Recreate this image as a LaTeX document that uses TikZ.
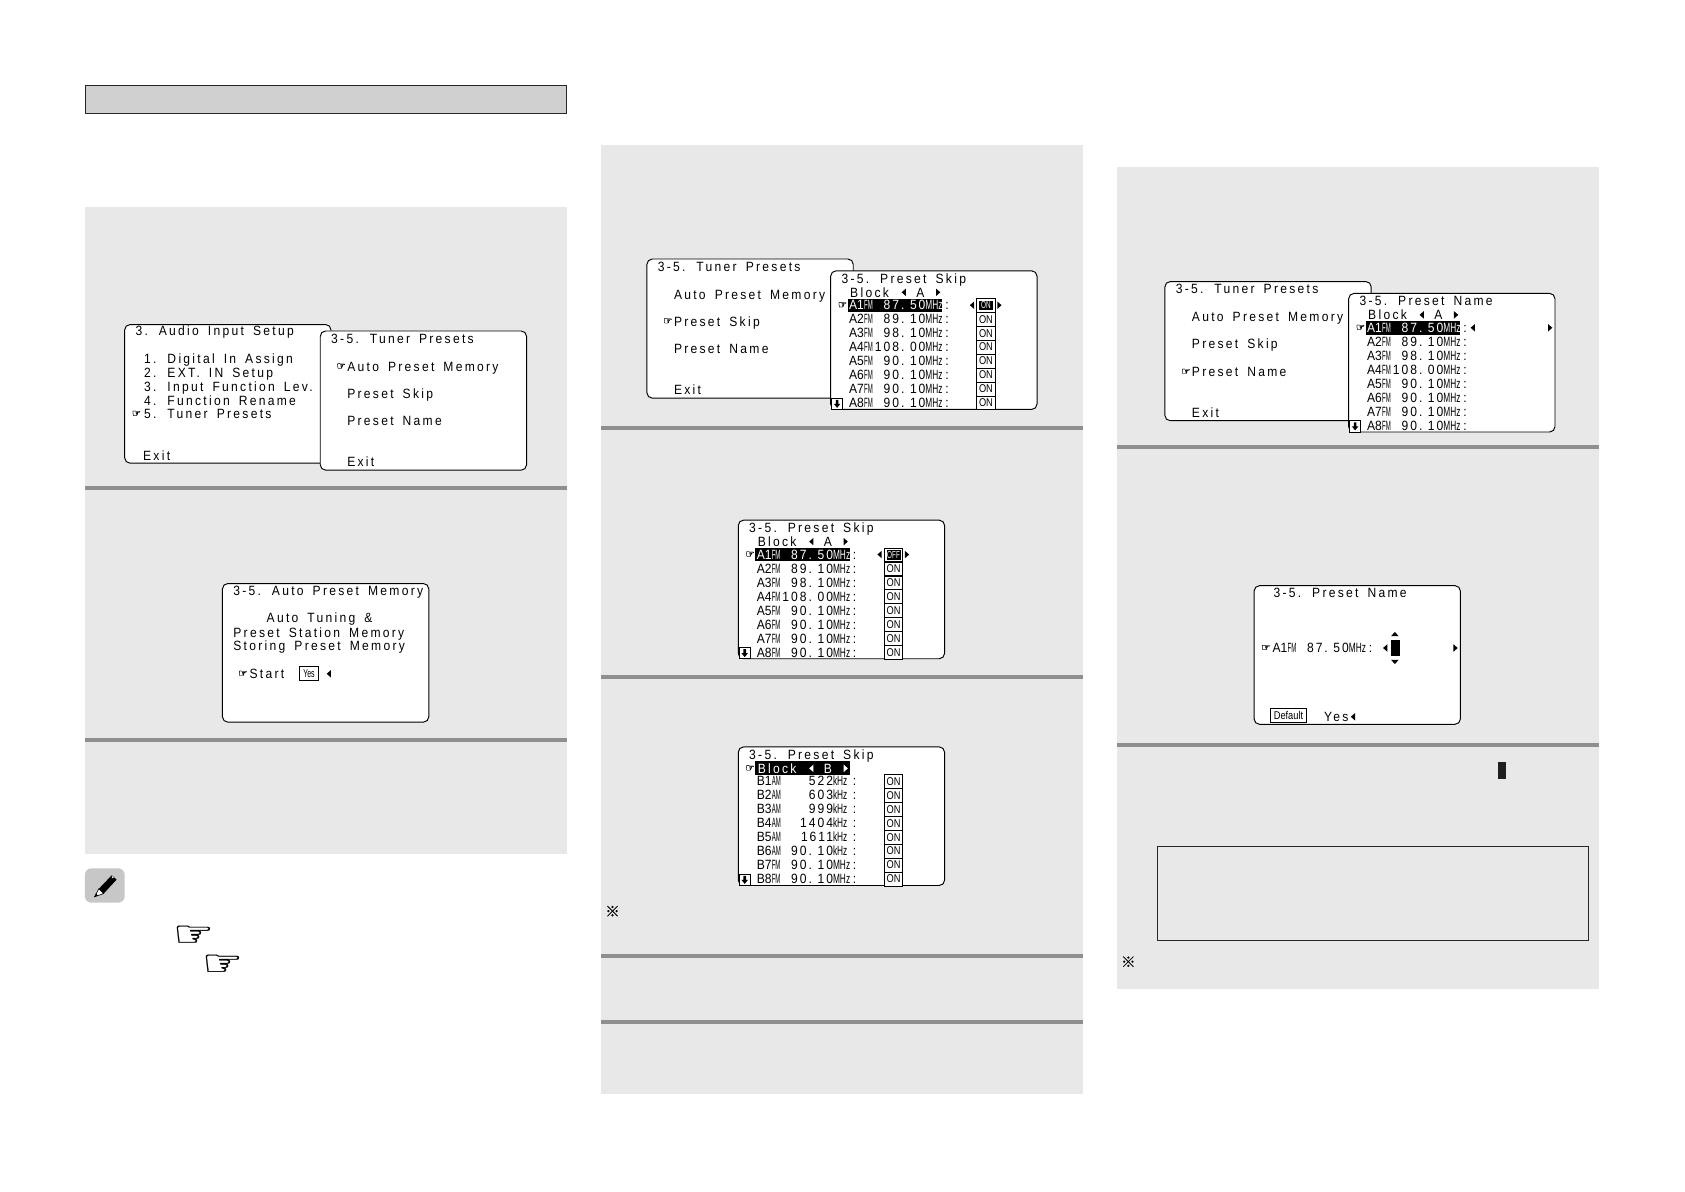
\documentclass[tikz,border=0pt]{standalone}
\usepackage{fontspec}
\setmainfont{Liberation Sans}
\newfontfamily\osdfont[LetterSpace=17,WordSpace=1.6,FakeStretch=0.9]{Liberation Sans}
\newfontfamily\valfont[LetterSpace=15,WordSpace=0.7,FakeStretch=0.9]{Liberation Sans}
\newfontfamily\labfont[FakeStretch=0.9]{Liberation Sans}
\newfontfamily\bandfont[FakeStretch=0.45]{Liberation Sans}
\newfontfamily\unitfont[FakeStretch=0.62]{Liberation Sans}
\newfontfamily\boxfont[FakeStretch=0.82]{Liberation Sans}
\newfontfamily\handfont[FakeBold=1.2]{DejaVu Sans}
\newfontfamily\bighandfont[FakeStretch=1.25,FakeBold=0.6]{DejaVu Sans}
\newfontfamily\cjkfont[FakeBold=0.5]{Noto Sans CJK JP}
\newcounter{tc}
\definecolor{panelgray}{HTML}{E8E8E8}
\definecolor{sepgray}{HTML}{8F8F8F}
\definecolor{titlegray}{HTML}{D0D0D0}
\tikzset{
  osdtext/.style={anchor=base west,inner sep=0pt,font=\fontsize{12.5}{13}\osdfont},
  screenbox/.style={draw=black,fill=white,line width=0.9pt,rounded corners=5pt},
  panelbox/.style={fill=panelgray,draw=none},
  sepbar/.style={fill=sepgray,draw=none},
  smallbox/.style={draw=black,line width=0.9pt,fill=white},
  smalltext/.style={inner sep=0pt,font=\fontsize{10.5}{11}\boxfont},
  handmark/.style={anchor=center,inner sep=0pt,font=\fontsize{9.5}{10}\handfont},
}
\newcommand{\osdt}[4][black]{\stepcounter{tc}\node[osdtext,text=#1] (t\arabic{tc}) at (#2,#3+4.4) {#4};}
\newcommand{\arrL}[2]{\fill (#1+2,#2-3.5) -- (#1-2,#2) -- (#1+2,#2+3.5) -- cycle;}
\newcommand{\arrR}[2]{\fill (#1-2,#2-3.5) -- (#1+2,#2) -- (#1-2,#2+3.5) -- cycle;}
\newcommand{\arrU}[2]{\fill (#1-3.5,#2+2) -- (#1,#2-2) -- (#1+3.5,#2+2) -- cycle;}
\newcommand{\arrD}[2]{\fill (#1-3.5,#2-2) -- (#1,#2+2) -- (#1+3.5,#2-2) -- cycle;}
\newcommand{\curs}[2]{\stepcounter{tc}\node[handmark] (t\arabic{tc}) at (#1,#2) {☞};}
\newcommand{\onbox}[1]{\stepcounter{tc}\draw[smallbox] (136,#1-6) rectangle (153,#1+6.5);
  \node[smalltext] (t\arabic{tc}) at (144.5,#1) {ON};}
\newcommand{\onboxsel}[2]{\stepcounter{tc}\draw[smallbox] (136,#1-6) rectangle (153,#1+6.5);
  \fill (138,#1-4.2) rectangle (151,#1+4.7);
  \node[smalltext,font=\fontsize{9.5}{10}\unitfont,text=white] (t\arabic{tc}) at (144.5,#1) {#2};}
\newcommand{\dnbox}{\draw[smallbox] (1,118.5) rectangle (11,129);
  \fill (4.8,120) rectangle (7.2,124) (3,123.8) -- (9,123.8) -- (6,127.5) -- cycle;}
% row: colour, y, label, band, value, unit
\newcommand{\prow}[6][black]{\stepcounter{tc}\node[osdtext,text=#1] (t\arabic{tc}) at (17,#2+4.4)
  {\makebox[14pt][l]{\labfont #3}\makebox[10pt][l]{\bandfont #4}\makebox[47pt][r]{\valfont #5}\makebox[18pt][l]{\unitfont #6}};
  \osdt{106.5}{#2}{:}}
\newcommand{\blockrow}[3][black]{\osdt[#1]{18}{#2}{Block}
  \begingroup\color{#1}\arrL{68}{#2}\arrR{100}{#2}\endgroup
  \osdt[#1]{79.5}{#2}{#3}}
\newcommand{\tunermenu}[1]{\draw[screenbox] (0,0) rectangle (192,129.5);
  \osdt{10}{7}{3-5. Tuner Presets}
  \osdt{25}{33}{Auto Preset Memory}
  \osdt{25}{58}{Preset Skip}
  \osdt{25}{84}{Preset Name}
  \osdt{25}{122}{Exit}
  \curs{19.5}{#1}}
\begin{document}
\begin{tikzpicture}[x=1pt,y=-1pt]
\useasboundingbox (0,0) rectangle (1568,1109.2);
\fill[white] (0,0) rectangle (1568,1109.2);
% header
\draw[fill=titlegray,draw=black!85,line width=0.9pt] (79.5,79.5) rectangle (527.5,105.5);
% panels
\fill[panelbox] (79,193) rectangle (528,795);
\fill[panelbox] (559,135) rectangle (1008,1018);
\fill[panelbox] (1039,155) rectangle (1488,920);
\foreach \yy in {454,689} {\fill[sepbar] (79,\yy-1.8) rectangle (528,\yy+1.8);}
\foreach \yy in {398,630,890,951} {\fill[sepbar] (559,\yy-1.8) rectangle (1008,\yy+1.8);}
\foreach \yy in {416,693} {\fill[sepbar] (1039,\yy-1.8) rectangle (1488,\yy+1.8);}
% column 1, first pair
\begin{scope}[shift={(116,302)}]
  \draw[screenbox] (0,0) rectangle (192,129);
  \osdt{10}{6}{3. Audio Input Setup}
  \osdt{18}{32}{1. Digital In Assign}
  \osdt{18}{45}{2. EXT. IN Setup}
  \osdt{18}{58}{3. Input Function Lev.}
  \osdt{18}{71}{4. Function Rename}
  \osdt{18}{83}{5. Tuner Presets}
  \osdt{17}{122}{Exit}
  \curs{11}{83}
\end{scope}
\begin{scope}[shift={(298,308)}]
  \tunermenu{33}
\end{scope}
% auto preset memory
\begin{scope}[shift={(207,543)}]
  \draw[screenbox] (0,0) rectangle (192,129);
  \osdt{10}{7}{3-5. Auto Preset Memory}
  \osdt{41}{32}{Auto Tuning \&}
  \osdt{10}{46}{Preset Station Memory}
  \osdt{10}{58}{Storing Preset Memory}
  \osdt{25}{84}{Start}
  \curs{19}{84}
  \draw[smallbox] (72,77.5) rectangle (89,90);
  \stepcounter{tc}\node[smalltext,font=\fontsize{10.5}{11}\unitfont] (t\arabic{tc}) at (80.5,84) {Yes};
  \arrL{99}{84}
\end{scope}
% note icon
\fill[fill=black!22,rounded corners=6pt] (79,808) rectangle (116,840);
\fill (92,827) -- (104,814.5) -- (108.5,818.5) -- (96.5,831.5) -- cycle;
\fill[white] (104.8,816.3) circle (1);
\draw[fill=white,line width=0.6pt] (92,827) -- (96.5,831.5) -- (88,834.5) -- cycle;
\fill (88,834.5) -- (89.5,831) -- (91,833.3) -- cycle;
\node[handmark,font=\fontsize{34}{34}\bighandfont] (hand1) at (180,871) {☞};
\node[handmark,font=\fontsize{34}{34}\bighandfont] (hand2) at (207,898) {☞};
% column 2 tuner/skip
\begin{scope}[shift={(602,241)}]
  \tunermenu{58}
\end{scope}
\begin{scope}[shift={(773,252)}]
  \draw[screenbox] (0,0) rectangle (192,129);
  \osdt{10}{7}{3-5. Preset Skip}
  \blockrow{20}{A}
  \fill (16,26) rectangle (104,38.5);
  \curs{11}{32}
  \prow[white]{32}{A1}{FM}{87. 50}{MHz}
  \prow{45}{A2}{FM}{89. 10}{MHz}
  \prow{58}{A3}{FM}{98. 10}{MHz}
  \prow{71}{A4}{FM}{108. 00}{MHz}
  \prow{84}{A5}{FM}{90. 10}{MHz}
  \prow{97}{A6}{FM}{90. 10}{MHz}
  \prow{110}{A7}{FM}{90. 10}{MHz}
  \prow{123}{A8}{FM}{90. 10}{MHz}
  \onboxsel{32}{ON}
  \foreach \yy in {45,58,71,84,97,110,123} {\onbox{\yy}}
  \arrL{131.5}{32}\arrR{157}{32}
  \dnbox
\end{scope}
\begin{scope}[shift={(687,484)}]
  \draw[screenbox] (0,0) rectangle (192,129);
  \osdt{10}{7}{3-5. Preset Skip}
  \blockrow{20}{A}
  \fill (16,26) rectangle (104,38.5);
  \curs{11}{32}
  \prow[white]{32}{A1}{FM}{87. 50}{MHz}
  \prow{45}{A2}{FM}{89. 10}{MHz}
  \prow{58}{A3}{FM}{98. 10}{MHz}
  \prow{71}{A4}{FM}{108. 00}{MHz}
  \prow{84}{A5}{FM}{90. 10}{MHz}
  \prow{97}{A6}{FM}{90. 10}{MHz}
  \prow{110}{A7}{FM}{90. 10}{MHz}
  \prow{123}{A8}{FM}{90. 10}{MHz}
  \onboxsel{32}{OFF}
  \foreach \yy in {45,58,71,84,97,110,123} {\onbox{\yy}}
  \arrL{131.5}{32}\arrR{157}{32}
  \dnbox
\end{scope}
\begin{scope}[shift={(687,695)}]
  \draw[screenbox] (0,0) rectangle (192,129);
  \osdt{10}{7}{3-5. Preset Skip}
  \fill (16,13.5) rectangle (104,26);
  \curs{11}{20}
  \blockrow[white]{20}{B}
  \prow{32}{B1}{AM}{522}{kHz}
  \prow{45}{B2}{AM}{603}{kHz}
  \prow{58}{B3}{AM}{999}{kHz}
  \prow{71}{B4}{AM}{1404}{kHz}
  \prow{84}{B5}{AM}{1611}{kHz}
  \prow{97}{B6}{AM}{90. 10}{kHz}
  \prow{110}{B7}{FM}{90. 10}{MHz}
  \prow{123}{B8}{FM}{90. 10}{MHz}
  \foreach \yy in {32,45,58,71,84,97,110,123} {\onbox{\yy}}
  \dnbox
\end{scope}
\node[inner sep=0pt,font=\fontsize{13.5}{14}\cjkfont] (note1) at (570,848) {※};
% column 3
\begin{scope}[shift={(1084,262)}]
  \tunermenu{84}
\end{scope}
\begin{scope}[shift={(1255,273)}]
  \draw[screenbox] (0,0) rectangle (192,129);
  \osdt{10}{7}{3-5. Preset Name}
  \blockrow{20}{A}
  \fill (16,26) rectangle (104,38.5);
  \curs{11}{32}
  \prow[white]{32}{A1}{FM}{87. 50}{MHz}
  \prow{45}{A2}{FM}{89. 10}{MHz}
  \prow{58}{A3}{FM}{98. 10}{MHz}
  \prow{71}{A4}{FM}{108. 00}{MHz}
  \prow{84}{A5}{FM}{90. 10}{MHz}
  \prow{97}{A6}{FM}{90. 10}{MHz}
  \prow{110}{A7}{FM}{90. 10}{MHz}
  \prow{123}{A8}{FM}{90. 10}{MHz}
  \arrL{115.5}{32}\arrR{187.5}{32}
  \dnbox
\end{scope}
\begin{scope}[shift={(1167,545)}]
  \draw[screenbox] (0,0) rectangle (192,129);
  \osdt{18}{7}{3-5. Preset Name}
  \curs{11}{58}
  \prow{58}{A1}{FM}{87. 50}{MHz}
  \arrL{122}{58}\arrR{187.5}{58}
  \fill (127,51) rectangle (135.5,65);
  \arrU{131}{45}\arrD{131}{71}
  \draw[smallbox] (15,114) rectangle (49,127);
  \stepcounter{tc}\node[smalltext] (t\arabic{tc}) at (32,120.5) {Default};
  \osdt{65}{122}{Yes}
  \arrL{92}{122}
\end{scope}
\fill[black!88] (1394,709) rectangle (1401,725);
\draw[draw=black!85,line width=0.9pt] (1077,788) rectangle (1478,875);
\node[inner sep=0pt,font=\fontsize{13.5}{14}\cjkfont] (note2) at (1050,895) {※};
\end{tikzpicture}
\end{document}
